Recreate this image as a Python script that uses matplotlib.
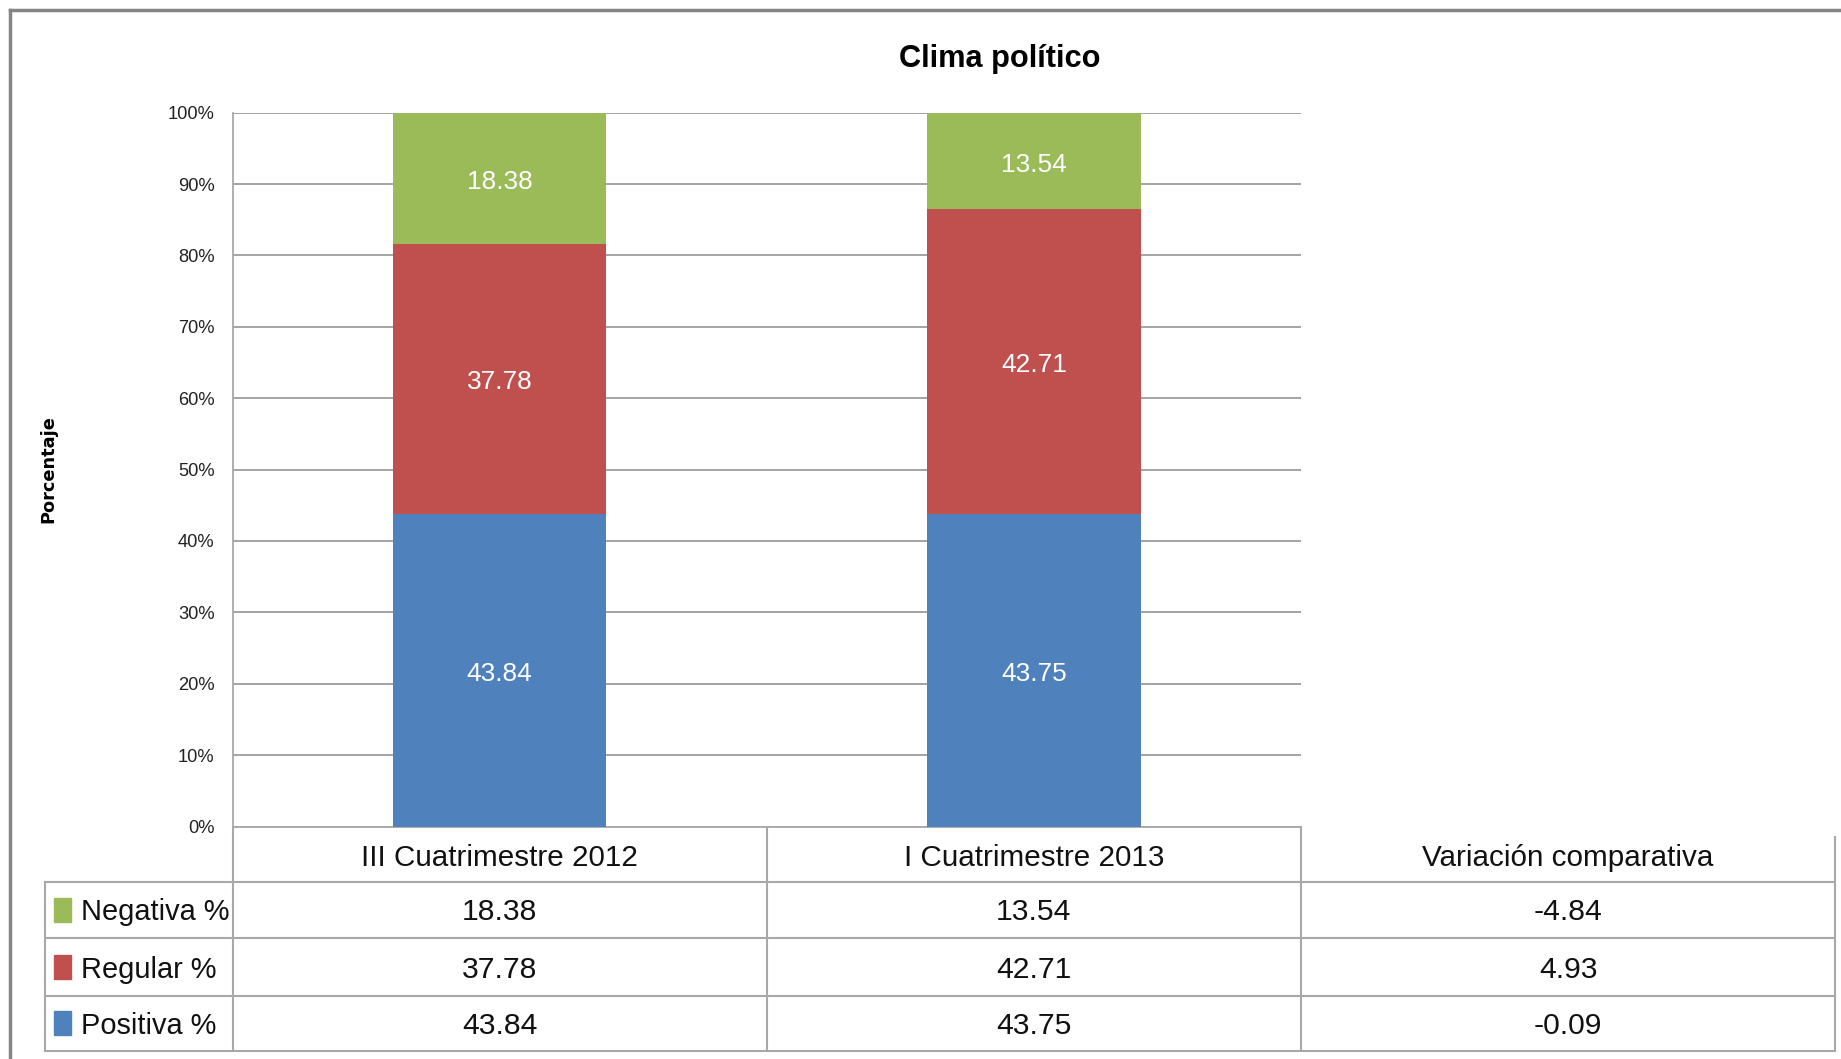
import matplotlib
matplotlib.use('Agg')
from matplotlib import pyplot as plt
from matplotlib import font_manager
from matplotlib.patches import Rectangle
from matplotlib.transforms import blended_transform_factory, offset_copy

# Data
periods = ['III Cuatrimestre 2012', 'I Cuatrimestre 2013']
variation_header = 'Variación comparativa'
series_names = ['Positiva %', 'Regular %', 'Negativa %']
positiva = [43.84, 43.75]
regular = [37.78, 42.71]
negativa = [18.38, 13.54]
variacion = [-0.09, 4.93, -4.84]   # positiva, regular, negativa
colors = ['#4F81BD', '#C0504D', '#9BBB59']
y_ticks = [0, 10, 20, 30, 40, 50, 60, 70, 80, 90, 100]

# Fonts: narrow sans if we have it (Calibri look-alike, stretched)
names = {f.name for f in font_manager.fontManager.ttflist}
if 'Liberation Sans Narrow' in names:
    FONT, k = 'Liberation Sans Narrow', 1.0
else:
    FONT, k = 'Liberation Sans', 0.82

W, H = 1841, 1059
fig = plt.figure(figsize=(W / 100, H / 100), dpi=100)

# main plot area (pixel placement)
left, right, top, bottom = 232.5, 1301, 112.7, 826.5
ax = fig.add_axes([left / W, 1 - bottom / H, (right - left) / W, (bottom - top) / H])

# overlay axes in pixel coords for table / frame
ov = fig.add_axes([0, 0, 1, 1], zorder=-1)
ov.set_xlim(0, W)
ov.set_ylim(H, 0)
ov.axis('off')

grid_c = '#9c9c9c'
line_c = '#a8a8a8'
txt_c = '#111111'

x = [0, 1]
bw = 0.4
series = [positiva, regular, negativa]
base = [0, 0]
lab_tr = offset_copy(ax.transData, fig=fig, y=-3.5, units='dots')
for vals, col in zip(series, colors):
    ax.bar(x, vals, bw, bottom=base, color=col, zorder=3)
    for xi, b, v in zip(x, base, vals):
        ax.text(xi, b + v / 2, f'{v:.2f}', transform=lab_tr, ha='center', va='center',
                color='white', fontsize=23 * k, family=FONT, zorder=4)
    base = [b + v for b, v in zip(base, vals)]

ax.set_xlim(-0.5, 1.5)
ax.set_ylim(0, 100)
ax.set_yticks(y_ticks)
ax.set_yticklabels([f'{t}%' for t in y_ticks], family=FONT, fontsize=16 * k, color='#222222')
ax.tick_params(axis='y', length=0, pad=13)
ax.set_xticks([])
ax.yaxis.grid(True, color=grid_c, lw=1.3, zorder=0)
for s in ['top', 'right']:
    ax.spines[s].set_visible(False)
for s in ['left', 'bottom']:
    ax.spines[s].set_color(line_c)
    ax.spines[s].set_linewidth(1.3)

fig.text(1000 / W, 1 - 59 / H, 'Clima político', ha='center', va='center',
         fontsize=27 * k, fontweight='bold', family=FONT)
fig.text(48 / W, 1 - 469 / H, 'Porcentaje', rotation=90, ha='center', va='center',
         fontsize=12.8, fontweight='bold', family='DejaVu Sans')

# Data table under the chart
tx = blended_transform_factory(ax.transData, ov.transData)
edges = [-0.5, 0.5, 1.5, 2.5]
rows_y = [bottom, 882, 938, 996, 1050.5]
leg_left = 44.6

for yv in rows_y[1:]:
    ov.plot([leg_left, left], [yv, yv], color=line_c, lw=1.5)
    ov.plot([edges[0], edges[-1]], [yv, yv], color=line_c, lw=1.5, transform=tx)
ov.plot([leg_left, leg_left], [rows_y[1], rows_y[-1]], color=line_c, lw=1.5)
for e in edges[:3]:
    ov.plot([e, e], [rows_y[0], rows_y[-1]], color=line_c, lw=1.5, transform=tx)
ov.plot([edges[3], edges[3]], [837, rows_y[-1]], color=line_c, lw=1.5, transform=tx)

headers = periods + [variation_header]
for i, h in enumerate(headers):
    ov.text(i, (rows_y[0] + rows_y[1]) / 2 + 3.5, h, transform=tx, ha='center', va='center',
            fontsize=26 * k, family=FONT, color=txt_c)

table_rows = [
    ('Negativa %', negativa + [variacion[2]], colors[2]),
    ('Regular %', regular + [variacion[1]], colors[1]),
    ('Positiva %', positiva + [variacion[0]], colors[0]),
]
for r, (name, vals, col) in enumerate(table_rows):
    yc = (rows_y[r + 1] + rows_y[r + 2]) / 2
    ov.add_patch(Rectangle((54.5, yc - 12), 17, 24, color=col))
    ov.text(81.5, yc + 2.5, name, ha='left', va='center', fontsize=25.5 * k, family=FONT, color=txt_c)
    for i, v in enumerate(vals):
        ov.text(i, yc + 2.5, f'{v:.2f}', transform=tx, ha='center', va='center',
                fontsize=26.5 * k, family=FONT, color=txt_c)

# outer frame (top and left edges visible)
ov.plot([10, W], [9.5, 9.5], color='#858585', lw=2.5)
ov.plot([10, 10], [9.5, H], color='#858585', lw=2.5)

fig.savefig('out.png', dpi=100)
